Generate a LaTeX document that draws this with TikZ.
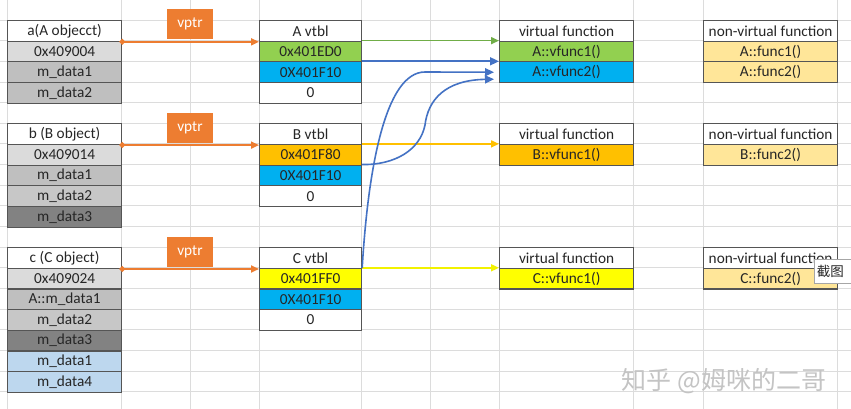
\documentclass[tikz,border=0pt]{standalone}
\usepackage{fontspec}
\setmainfont{Carlito}
\newfontfamily\cjk{Noto Sans CJK SC}
\usetikzlibrary{arrows.meta,calc}
\definecolor{gridc}{HTML}{DCDCDC}
\definecolor{boxc}{HTML}{555555}
\definecolor{txt}{HTML}{262626}
\definecolor{lg}{HTML}{DBDBDB}
\definecolor{mg}{HTML}{BFBFBF}
\definecolor{mgb}{HTML}{C7C7C7}
\definecolor{dg}{HTML}{828282}
\definecolor{lb}{HTML}{BDD7EE}
\definecolor{gr}{HTML}{92D050}
\definecolor{bl}{HTML}{00B0F0}
\definecolor{gold}{HTML}{FFC000}
\definecolor{yel}{HTML}{FFFF00}
\definecolor{nvf}{HTML}{FFE699}
\definecolor{orng}{HTML}{ED7D31}
\definecolor{arrgr}{HTML}{70AD47}
\definecolor{arrbl}{HTML}{4472C4}
\definecolor{arrgold}{HTML}{FFC000}
\definecolor{arryel}{HTML}{F2F200}
\definecolor{wm}{HTML}{C4C4C4}
\begin{document}
\begin{tikzpicture}[x=1pt,y=-1pt,
  gridline/.style={draw=gridc, line width=0.8pt},
  cell/.style={draw=boxc, line width=1.2pt, minimum height=20.65pt, inner sep=0pt,
    anchor=north west, text=txt, font=\fontsize{15.3}{18}\selectfont, fill=white},
  objc/.style={cell, minimum width=114pt},
  vtc/.style={cell, minimum width=102pt},
  vfc/.style={cell, minimum width=134pt},
  vptrlab/.style={fill=orng, minimum width=46pt, minimum height=30pt, inner sep=0pt,
    anchor=south, text=white, font=\fontsize{15.3}{18}\selectfont},
  optr/.style={draw=orng, line width=1.7pt, {Circle[length=5.5pt]}-{Triangle[length=8pt,width=7pt]}, shorten <=-2.7pt},
  garr/.style={draw=arrgr, line width=1.6pt, -{Triangle[length=8pt,width=7pt]}},
  barr/.style={draw=arrbl, line width=1.6pt, -{Triangle[length=9pt,width=8pt]}},
  goldarr/.style={draw=arrgold, line width=1.6pt, -{Triangle[length=8pt,width=7pt]}},
  yelarr/.style={draw=arryel, line width=1.6pt, -{Triangle[length=8pt,width=7pt]}},
  tipbox/.style={draw=gray!70, fill=white, line width=0.6pt, anchor=north west,
    minimum width=42pt, minimum height=24pt, inner sep=0pt, font=\cjk\fontsize{13.5}{15}\selectfont, text=txt},
  watermark/.style={text=wm, font=\cjk\fontsize{25}{28}\selectfont, inner sep=0pt}
]
\clip (0,0) rectangle (851,409);
\fill[white] (0,0) rectangle (851,409);
% spreadsheet grid
\foreach \x in {7,121,190,259,361,430,499,633,703,837}
  \draw[gridline] (\x,0) -- (\x,409);
\foreach \k in {1,...,19}
  \draw[gridline] (0,{20.65*\k-0.65}) -- (851,{20.65*\k-0.65});

% objects
\node[objc] (a0) at (7,20) {a(A objecct)};
\node[objc, fill=lg] (a1) at (7,40.65) {0x409004};
\node[objc, fill=mg] (a2) at (7,61.3) {m\_data1};
\node[objc, fill=mg] (a3) at (7,81.95) {m\_data2};

\node[objc] (b0) at (7,123.25) {b (B object)};
\node[objc, fill=lg] (b1) at (7,143.9) {0x409014};
\node[objc, fill=mg] (b2) at (7,164.55) {m\_data1};
\node[objc, fill=mgb] (b3) at (7,185.2) {m\_data2};
\node[objc, fill=dg] (b4) at (7,205.85) {m\_data3};

\node[objc] (c0) at (7,247.15) {c (C object)};
\node[objc, fill=lg] (c1) at (7,267.8) {0x409024};
\node[objc, fill=mg] (c2) at (7,288.45) {A::m\_data1};
\node[objc, fill=mgb] (c3) at (7,309.1) {m\_data2};
\node[objc, fill=dg] (c4) at (7,329.75) {m\_data3};
\node[objc, fill=lb] (c5) at (7,350.4) {m\_data1};
\node[objc, fill=lb] (c6) at (7,371.05) {m\_data4};

% vtables
\node[vtc] (av0) at (259,20) {A vtbl};
\node[vtc, fill=gr] (av1) at (259,40.65) {0x401ED0};
\node[vtc, fill=bl] (av2) at (259,61.3) {0X401F10};
\node[vtc] (av3) at (259,81.95) {0};

\node[vtc] (bv0) at (259,123.25) {B vtbl};
\node[vtc, fill=gold] (bv1) at (259,143.9) {0x401F80};
\node[vtc, fill=bl] (bv2) at (259,164.55) {0X401F10};
\node[vtc] (bv3) at (259,185.2) {0};

\node[vtc] (cv0) at (259,247.15) {C vtbl};
\node[vtc, fill=yel] (cv1) at (259,267.8) {0x401FF0};
\node[vtc, fill=bl] (cv2) at (259,288.45) {0X401F10};
\node[vtc] (cv3) at (259,309.1) {0};

% virtual functions
\node[vfc] (avf0) at (499,20) {virtual function};
\node[vfc, fill=gr] (avf1) at (499,40.65) {A::vfunc1()};
\node[vfc, fill=bl] (avf2) at (499,61.3) {A::vfunc2()};

\node[vfc] (bvf0) at (499,123.25) {virtual function};
\node[vfc, fill=gold] (bvf1) at (499,143.9) {B::vfunc1()};

\node[vfc] (cvf0) at (499,247.15) {virtual function};
\node[vfc, fill=yel] (cvf1) at (499,267.8) {C::vfunc1()};

% non-virtual functions
\node[vfc] (anv0) at (703,20) {non-virtual function};
\node[vfc, fill=nvf] (anv1) at (703,40.65) {A::func1()};
\node[vfc, fill=nvf] (anv2) at (703,61.3) {A::func2()};

\node[vfc] (bnv0) at (703,123.25) {non-virtual function};
\node[vfc, fill=nvf] (bnv1) at (703,143.9) {B::func2()};

\node[vfc] (cnv0) at (703,247.15) {non-virtual function};
\node[vfc, fill=nvf] (cnv1) at (703,267.8) {C::func2()};

% vptr labels
\node[vptrlab] (vpa) at (190,39.5) {vptr};
\node[vptrlab] (vpb) at (190,142.8) {vptr};
\node[vptrlab] (vpc) at (190,266.7) {vptr};

% vptr arrows
\draw[optr] (a0.south east) -- (av0.south west);
\draw[optr] (b0.south east) -- (bv0.south west);
\draw[optr] (c0.south east) -- (cv0.south west);

% vtable entry arrows
\draw[garr] (av1.north east) -- (avf1.north west);
\draw[barr] (av2.north east) -- (avf2.north west);
\draw[goldarr] (bv1.north east) -- (bvf1.north west);
\draw[yelarr] (cv1.north east) -- (cvf1.north west);

\coordinate (endb) at ($(avf2.west)+(-5,7)$);
\coordinate (endc) at ($(avf2.west)+(-5,0)$);
\draw[barr] (bv2.north east) .. controls (395,165) and (420,150) .. (425,125)
   .. controls (428,100) and (445,80) .. (endb);
\draw[barr] (cv1.north east) .. controls (368,170) and (385,72) .. (425,72) -- (endc);

% tooltip and watermark
\node[tipbox] (tip) at (814,259) {\hspace*{-10pt}截图};
\node[watermark] (wmark) at (724,381) {知乎 @姆咪的二哥};
\end{tikzpicture}
\end{document}
